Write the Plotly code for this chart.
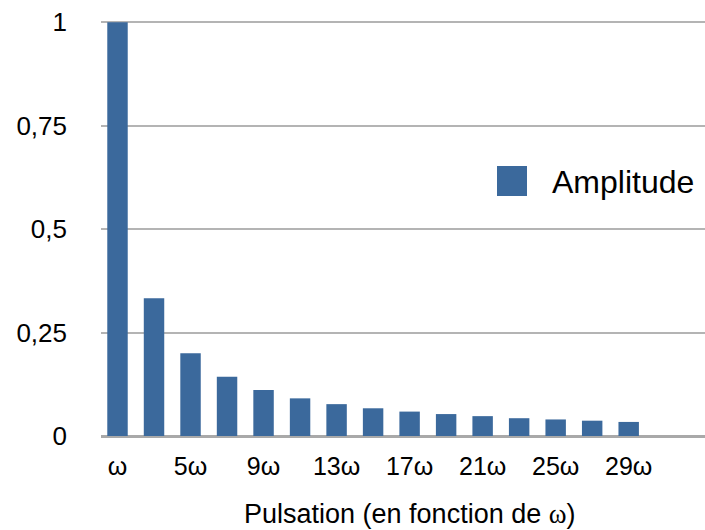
import plotly.graph_objects as go

# Harmonic amplitudes of a square-like signal, one bar per odd multiple of ω
pulsations = ["ω", "3ω", "5ω", "7ω", "9ω", "11ω", "13ω", "15ω",
              "17ω", "19ω", "21ω", "23ω", "25ω", "27ω", "29ω"]
amplitudes = [1.0, 0.333, 0.2, 0.143, 0.111, 0.091, 0.077, 0.067,
              0.059, 0.053, 0.048, 0.043, 0.04, 0.037, 0.034]
shown_ticks = ["ω", "5ω", "9ω", "13ω", "17ω", "21ω", "25ω", "29ω"]
y_ticks = [0, 0.25, 0.5, 0.75, 1]
y_tick_labels = ["0", "0,25", "0,5", "0,75", "1"]
series_name = "Amplitude"

BAR_COLOR = "#3b699c"
GRID_COLOR = "#b4b4b4"
FONT = "Liberation Sans, Arial, sans-serif"

fig = go.Figure()
fig.add_trace(go.Bar(
    x=pulsations,
    y=amplitudes,
    name=series_name,
    marker=dict(color=BAR_COLOR, line=dict(width=0)),
    showlegend=False,
))

fig.update_layout(
    width=705,
    height=530,
    margin=dict(l=101, r=0, t=21, b=94),
    paper_bgcolor="white",
    plot_bgcolor="white",
    bargap=0.44,
    font=dict(family=FONT, color="black"),
    xaxis=dict(
        type="category",
        range=[-0.452, 16.09],
        tickmode="array",
        tickvals=shown_ticks,
        ticktext=shown_ticks,
        tickfont=dict(size=25),
        ticklabelstandoff=13,
        showgrid=False,
        showline=False,
        ticks="",
    ),
    yaxis=dict(
        range=[0, 1.003],
        tickmode="array",
        tickvals=y_ticks,
        ticktext=y_tick_labels,
        tickfont=dict(size=26),
        ticklabelstandoff=33,
        showgrid=True,
        gridcolor=GRID_COLOR,
        gridwidth=2,
        zeroline=True,
        zerolinecolor="#a9a9a9",
        zerolinewidth=2.5,
        showline=False,
        ticks="",
    ),
)

# Axis title with a serif omega
fig.add_annotation(
    x=0.511, y=-0.187, xref="paper", yref="paper",
    xanchor="center", yanchor="middle",
    text='Pulsation (en fonction de <span style="font-family:Liberation Serif, Times New Roman, serif">ω</span>)',
    showarrow=False,
    font=dict(family=FONT, size=27, color="black"),
)

# Legend: swatch and label placed at the right of the plot area
fig.add_shape(
    type="rect", xref="paper", yref="paper",
    x0=(497 - 101) / 604, x1=(527 - 101) / 604,
    y0=(436 - 196) / 415, y1=(436 - 166) / 415,
    fillcolor=BAR_COLOR, line=dict(width=0),
)
fig.add_annotation(
    x=(550 - 101) / 604, y=(436 - 182) / 415, xref="paper", yref="paper",
    xanchor="left", yanchor="middle",
    text=series_name, showarrow=False,
    font=dict(family=FONT, size=32, color="black"),
)

fig.write_html("out.html")
